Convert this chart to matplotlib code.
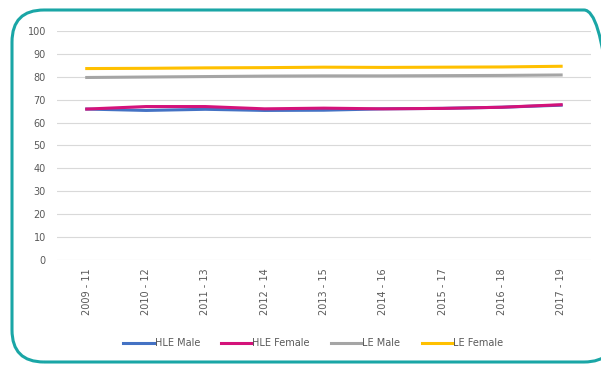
import matplotlib.pyplot as plt
from matplotlib.patches import FancyBboxPatch
from matplotlib.transforms import IdentityTransform
import numpy as np

# Periods and life expectancy values (years)
periods = ['2009 - 11', '2010 - 12', '2011 - 13', '2012 - 14', '2013 - 15',
           '2014 - 16', '2015 - 17', '2016 - 18', '2017 - 19']
hle_male = [65.9, 65.3, 65.8, 65.3, 65.4, 66.0, 66.2, 66.7, 67.6]
hle_female = [65.9, 67.0, 67.0, 66.0, 66.3, 66.0, 66.2, 66.7, 67.8]
le_male = [79.7, 79.9, 80.1, 80.3, 80.4, 80.4, 80.5, 80.6, 80.8]
le_female = [83.6, 83.7, 83.9, 84.0, 84.2, 84.1, 84.2, 84.3, 84.6]

fig = plt.figure(figsize=(6.01, 3.65), dpi=100)
ax = fig.add_axes([0.095, 0.288, 0.888, 0.627])

x = np.arange(len(periods))
ax.plot(x, hle_male, color='#4472C4', lw=2.2, label='HLE Male')
ax.plot(x, hle_female, color='#D4127A', lw=2.2, label='HLE Female')
ax.plot(x, le_male, color='#A5A5A5', lw=2.2, label='LE Male')
ax.plot(x, le_female, color='#FFC000', lw=2.2, label='LE Female')

ax.set_xlim(-0.5, len(periods) - 0.5)
ax.set_ylim(0, 100)
ax.set_yticks(range(0, 101, 10))
ax.set_xticks(x)
ax.set_xticklabels(periods, rotation=90)
ax.tick_params(axis='both', length=0, labelsize=7, labelcolor='#595959')
ax.tick_params(axis='y', pad=8)
ax.tick_params(axis='x', pad=6)
ax.grid(axis='y', color='#D9D9D9', lw=0.8)
ax.set_axisbelow(True)
for s in ax.spines.values():
    s.set_visible(False)

ax.legend(loc='center', bbox_to_anchor=(0.48, -0.365), ncol=4, frameon=False,
          fontsize=7, labelcolor='#595959', handlelength=3.2, handletextpad=0.0,
          columnspacing=2.2)

# Rounded frame around the chart, in pixel coordinates
frame = FancyBboxPatch((12, 3), 604, 352, transform=IdentityTransform(),
                       boxstyle='round,pad=0,rounding_size=32',
                       fc='none', ec='#1AA6A6', lw=2.2, clip_on=False)
fig.patches.append(frame)

fig.savefig('out.png', dpi=100)
